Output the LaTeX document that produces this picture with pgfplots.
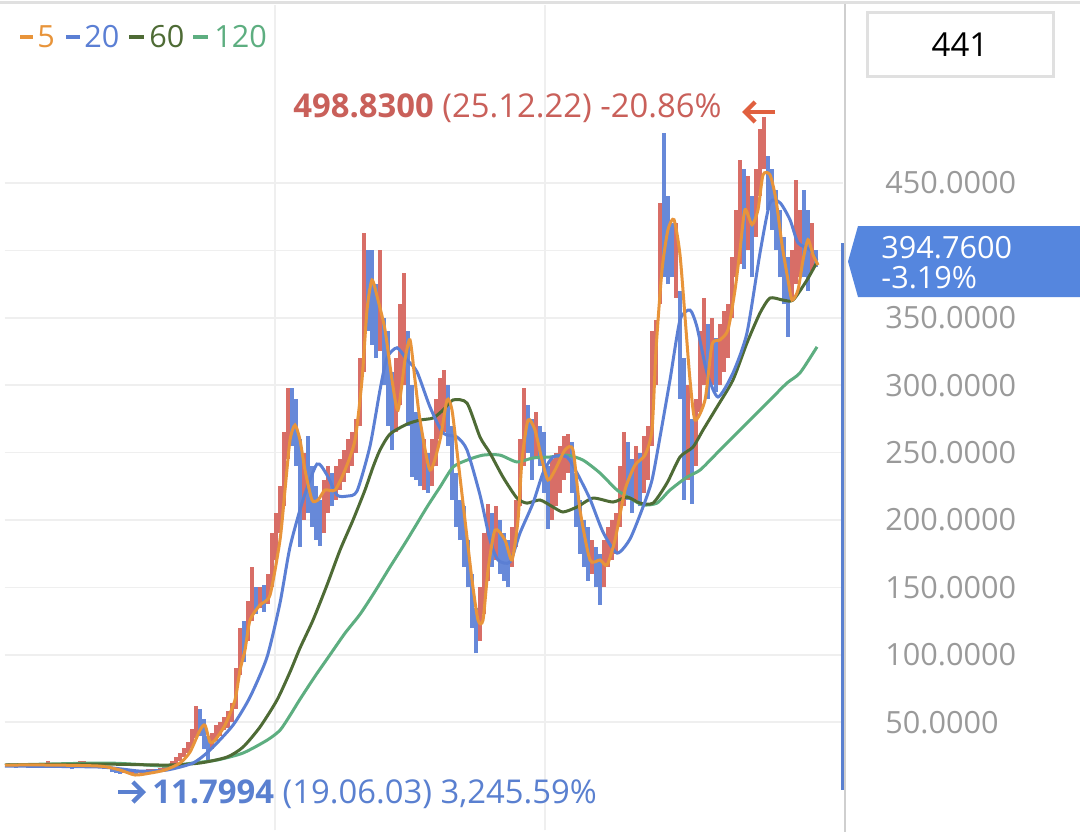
\documentclass[border=0pt]{standalone}
\usepackage{pgfplots}
\pgfplotsset{compat=1.18}
\usepackage{pgfplotstable}
\usepackage{fontspec}
\setmainfont{Open Sans}
\usetikzlibrary{arrows.meta}
\definecolor{maA}{HTML}{E8943A}
\definecolor{maB}{HTML}{5B7FD4}
\definecolor{maC}{HTML}{4E6B35}
\definecolor{maD}{HTML}{5DAE80}
\definecolor{cred}{HTML}{D5625B}
\definecolor{cblue}{HTML}{5B80D6}
\definecolor{annred}{HTML}{C9605A}
\definecolor{annblue}{HTML}{5A80D0}
\definecolor{arrred}{HTML}{E0603F}
\definecolor{tickgray}{HTML}{9A9A9A}
\definecolor{gridc}{HTML}{EFEFEF}
\definecolor{tagblue}{HTML}{5586DE}
\definecolor{boxgray}{HTML}{E0E0E0}
\definecolor{vgray}{HTML}{CFCFCF}

\pgfplotstableread{
x lo hi
12 17 19
20 17 20
32 17 20
36 17 20
44 17 20
48 18 21
64 17 20
76 16 19
80 17 21
84 18 21
96 17 19
124 12 14
132 12 15
140 12 14
148 13 15
152 13 15
160 13 16
164 14 17
168 15 18
172 17 21
176 18 24
180 21 27
184 24 31
188 27 35
192 31 45
196 38 62
212 30 42
216 36 48
220 40 50
224 44 54
228 46 58
232 50 64
236 60 90
240 85 120
248 110 140
252 125 165
260 135 150
268 138 160
272 150 190
276 170 205
280 190 225
284 210 265
288 245 298
304 200 250
324 190 230
328 205 240
336 215 240
340 222 245
344 228 252
348 235 260
352 240 265
356 250 275
360 270 320
364 310 413
380 325 400
396 265 320
400 285 360
404 300 383
424 222 260
432 225 260
436 240 290
440 260 305
444 265 311
480 110 150
484 130 190
488 155 212
496 170 210
512 165 195
516 180 215
520 210 260
524 240 298
536 245 280
552 200 245
556 210 250
560 220 255
564 230 262
568 235 264
592 160 185
604 150 185
608 165 195
612 170 200
616 175 205
620 195 240
624 210 265
636 215 255
644 220 262
648 230 270
652 255 340
656 300 348
660 360 435
676 365 420
688 230 300
696 240 290
700 280 340
704 300 365
712 300 350
720 300 345
724 310 355
728 320 360
732 350 395
736 380 430
740 390 467
748 400 455
756 410 460
760 440 490
764 460 498.83
792 365 400
796 375 452
800 380 430
812 385 420
}\redc

\pgfplotstableread{
x lo hi
8 17 20
16 16 19
24 17 19
28 16 18
40 16 19
52 17 19
56 16 19
60 17 19
68 16 19
72 15 18
88 17 20
92 16 19
100 16 18
104 15 18
108 15 17
112 13 16
116 12 15
120 11.8 14
128 12 14
136 11.8 13.5
144 12 14
156 13 15
200 40 60
204 30 52
208 22 40
244 95 125
256 130 150
264 132 152
292 255 298
296 240 290
300 180 260
308 205 262
312 195 240
316 185 225
320 181 215
332 210 235
368 340 400
372 330 400
376 320 375
384 300 350
388 270 340
392 252 310
408 270 340
412 232 300
416 230 280
420 225 275
428 220 250
448 255 300
452 215 270
456 195 235
460 185 215
464 165 210
468 150 185
472 120 160
476 101 135
492 165 205
500 160 200
504 155 190
508 150 185
528 250 285
532 230 275
540 240 270
544 220 265
548 193 240
572 220 258
576 195 235
580 175 215
584 165 200
588 155 195
596 150 180
600 137 175
628 215 258
632 205 245
640 210 250
664 380 487
668 375 440
672 380 420
680 290 370
684 215 320
692 212 275
708 290 345
716 295 335
744 386 460
752 380 440
768 430 470
772 415 460
776 400 445
780 380 430
784 360 410
788 336 395
804 380 445
808 370 430
816 388 400
}\bluec

\begin{document}
\begin{tikzpicture}
\path[use as bounding box] (0,0) rectangle (540pt,416pt);
\fill[white] (0,0) rectangle (540pt,416pt);
\begin{axis}[at={(2.5pt,1pt)}, anchor=south west, scale only axis,
  width=419pt, height=412.5pt,
  xmin=5, xmax=843, ymin=-30, ymax=582,
  axis line style={draw=none}, major tick length=0pt,
  xtick={275,545}, xticklabel=\empty,
  xmajorgrids, ymajorgrids,
  ytick={50,100,150,200,250,300,350,400,450},
  yticklabels={50.0000,100.0000,150.0000,200.0000,250.0000,300.0000,350.0000,,450.0000},
  yticklabel pos=right,
  yticklabel style={anchor=west, inner sep=0pt, xshift=21pt, text=tickgray, font=\fontsize{15.3}{18}\selectfont},
  grid style={color=gridc, line width=0.8pt},
]
\addplot[draw=none, mark=none, forget plot,
  error bars/.cd, y dir=plus, y explicit, error mark=none,
  error bar style={draw=cred, line width=1.6pt, opacity=0.92}]
  table[x=x, y=lo, y error expr=\thisrow{hi}-\thisrow{lo}] {\redc};
\addplot[draw=none, mark=none, forget plot,
  error bars/.cd, y dir=plus, y explicit, error mark=none,
  error bar style={draw=cblue, line width=1.6pt, opacity=0.92}]
  table[x=x, y=lo, y error expr=\thisrow{hi}-\thisrow{lo}] {\bluec};
% MA120
\addplot[maD, line width=1.5pt, smooth, tension=0.4] coordinates {
(5,18.2)(100,19.7)(133,18.9)(167,17.4)(193,19.7)(217,21.9)(243,27.1)(267,36.6)(280,44.0)(290,55.0)(300,67.0)(315,84.0)(330,100.0)(345,116.0)(360,130.0)(375,147.0)(390,165.1)(407,185.1)(427,209.6)(440,224.4)(453,239.2)(467,244.4)(483,248.1)(500,248.1)(517,243.0)(533,246.0)(550,246.7)(567,248.1)(583,244.4)(600,234.8)(617,222.2)(633,214.8)(643,211.1)(657,212.5)(670,222.2)(687,231.8)(700,237.0)(717,249.6)(733,261.5)(753,276.3)(770,289.0)(787,301.6)(800,309.1)(817,328.4)};
% MA60
\addplot[maC, line width=1.5pt, smooth, tension=0.4] coordinates {
(5,18.2)(100,18.9)(167,18.2)(200,19.7)(227,24.1)(243,31.5)(260,46.4)(277,66.4)(290,87.2)(300,105.0)(313,125.7)(327,151.7)(340,177.6)(353,199.9)(365,222.2)(373,239.2)(380,251.9)(390,263.7)(407,271.1)(420,274.1)(433,275.6)(443,281.5)(453,289.0)(467,286.7)(480,261.5)(490,249.6)(503,231.8)(517,216.2)(527,212.5)(540,214.8)(553,209.6)(563,205.9)(577,209.6)(593,216.2)(613,213.3)(627,217.0)(640,212.5)(653,212.5)(667,227.4)(680,246.7)(693,254.1)(703,266.7)(717,283.8)(733,303.9)(747,331.4)(760,353.5)(770,364.6)(783,363.1)(793,363.1)(807,378.0)(817,391.3)};
% MA20
\addplot[maB, line width=1.5pt, smooth, tension=0.4] coordinates {
(5,17.4)(100,16.7)(140,13.7)(167,14.5)(193,19.7)(210,29.3)(233,47.8)(250,68.6)(267,98.2)(280,138.4)(290,179.9)(303,214.8)(317,241.5)(327,233.3)(337,218.5)(347,217.7)(357,221.4)(370,254.8)(380,296.4)(387,320.3)(397,327.7)(407,318.8)(417,309.9)(430,283.8)(443,264.5)(457,261.5)(467,251.9)(480,218.5)(490,185.1)(498,170.3)(510,168.8)(520,190.3)(533,212.5)(543,234.8)(553,246.7)(567,246.7)(577,234.8)(590,215.5)(603,191.0)(617,175.4)(630,185.9)(643,209.6)(652,229.6)(660,261.5)(670,303.9)(680,348.3)(690,355.7)(697,343.1)(707,309.1)(718,291.2)(733,309.1)(747,338.9)(760,398.1)(770,435.3)(780,435.3)(790,422.7)(798,405.6)(810,400.4)(817,392.8)};
% MA5
\addplot[maA, line width=1.5pt, smooth, tension=0.4] coordinates {
(5,18.2)(50,18.2)(100,17.4)(120,14.5)(135,10.8)(150,12.2)(165,14.5)(180,19.7)(190,27.8)(200,44.1)(205,47.8)(210,35.2)(215,36.6)(225,47.8)(235,66.5)(240,88.6)(245,103.5)(250,125.7)(260,136.9)(270,144.3)(280,185.1)(285,222.2)(290,259.3)(295,270.4)(300,259.3)(305,237.0)(312,214.8)(318,214.8)(325,222.2)(335,222.2)(345,237.0)(355,259.3)(362,303.9)(367,355.7)(372,378.0)(378,363.1)(385,341.1)(392,303.9)(398,281.5)(405,318.8)(410,333.6)(415,303.9)(420,274.1)(430,237.0)(440,259.3)(447,289.0)(452,281.5)(458,244.4)(465,199.9)(472,155.5)(478,125.7)(483,125.7)(488,162.8)(495,192.5)(505,185.1)(512,170.3)(518,199.9)(522,244.4)(528,274.1)(535,266.7)(542,244.4)(548,229.6)(555,237.0)(565,251.9)(573,251.9)(580,207.4)(590,170.3)(600,170.3)(607,166.6)(615,185.1)(625,222.2)(635,240.7)(645,248.1)(652,266.7)(656,326.2)(662,385.4)(668,415.4)(674,422.7)(680,396.7)(686,341.1)(690,303.9)(695,274.1)(705,289.0)(712,329.9)(720,333.6)(728,341.1)(735,370.6)(740,400.4)(745,430.2)(752,419.0)(758,430.2)(763,456.0)(770,456.0)(776,437.5)(782,404.2)(788,378.0)(792,363.1)(798,370.6)(803,392.8)(808,407.9)(813,396.7)(818,389.1)};
\end{axis}
\begin{scope}[yshift=416pt, x=0.5pt, y=-0.5pt, font=\fontsize{15.3}{18}\selectfont]
\draw[boxgray, line width=1.5pt] (0,3) -- (1080,3);
\draw[vgray, line width=1pt] (845,4) -- (845,832);
\draw[annblue, line width=1.5pt] (842,243) -- (842,790);
\draw[boxgray, line width=1.5pt] (867,13) rectangle (1053,77);
\node[font=\fontsize{16.5}{18}\selectfont] at (960,45) {441};
\fill[tagblue] (858,226) -- (1080,226) -- (1080,297) -- (858,297) -- (848,261.5) -- cycle;
\node[anchor=base west, inner sep=0pt, text=white] at (881,258) {394.7600};
\node[anchor=base west, inner sep=0pt, text=white] at (881,288) {-3.19\%};
% legend
\draw[maA, line width=2pt] (20,37) -- (33,37);
\node[anchor=base west, inner sep=0pt, text=maA] at (37,48) {5};
\draw[maB, line width=2pt] (66,37) -- (80,37);
\node[anchor=base west, inner sep=0pt, text=maB] at (84,48) {20};
\draw[maC, line width=2pt] (129,37) -- (144,37);
\node[anchor=base west, inner sep=0pt, text=maC] at (149,48) {60};
\draw[maD, line width=2pt] (193,37) -- (208,37);
\node[anchor=base west, inner sep=0pt, text=maD] at (214,48) {120};
% annotations
\node[anchor=base west, inner sep=0pt, text=annred, font=\fontsize{16.4}{19}\selectfont] at (293,118) {\textbf{498.8300} (25.12.22) -20.86\%};
\draw[arrred, line width=2.2pt, -{Straight Barb[length=5pt,width=10pt]}] (775,112) -- (742,112);
\draw[annblue, line width=2.2pt, -{Straight Barb[length=5pt,width=10pt]}] (118,792) -- (146,792);
\node[anchor=base west, inner sep=0pt, text=annblue, font=\fontsize{16.4}{19}\selectfont] at (152,803) {\textbf{11.7994} (19.06.03) 3,245.59\%};
\end{scope}
\end{tikzpicture}
\end{document}
